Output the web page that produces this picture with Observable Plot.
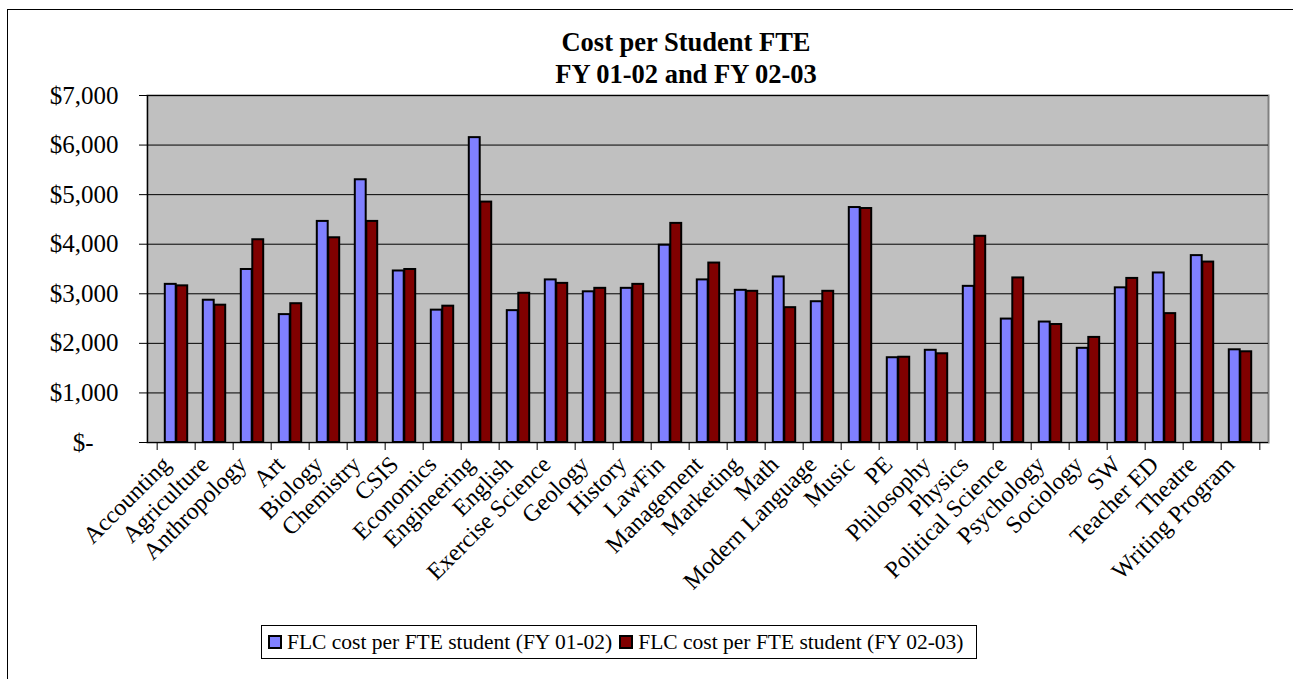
<!DOCTYPE html>
<html>
<head>
<meta charset="utf-8">
<script src="https://cdn.jsdelivr.net/npm/d3@7"></script>
<script src="https://cdn.jsdelivr.net/npm/@observablehq/plot@0.6"></script>
<style>
  body { margin: 0; background: #fff; font-family: "Liberation Serif", "Times New Roman", serif; }
  #wrap { position: relative; width: 1293px; height: 679px; overflow: hidden; }
  #border { position: absolute; left: 7px; top: 9px; width: 1400px; height: 800px; border: 1.5px solid #000; box-sizing: border-box; }
  #chart { position: absolute; left: 0; top: 0; }
  #title { position: absolute; left: 386px; width: 600px; top: 26px; text-align: center; font-weight: bold; font-size: 26.5px; line-height: 32px; color: #000; }
  #legend { position: absolute; left: 261px; top: 625px; width: 716px; height: 34px; border: 1px solid #000; box-sizing: border-box; display: flex; align-items: center; padding-left: 6px; font-size: 21.5px; color: #000; white-space: nowrap; }
  .sw { width: 14px; height: 14px; border: 2px solid #000; box-sizing: border-box; margin-right: 5px; }
  .item { display: flex; align-items: center; margin-right: 7px; }
</style>
</head>
<body>
<div id="wrap">
  <div id="border"></div>
  <div id="chart"></div>
  <div id="title">Cost per Student FTE<br>FY 01-02 and FY 02-03</div>
  <div id="legend"></div>
</div>
<script>
const categories = ["Accounting","Agriculture","Anthropology","Art","Biology","Chemistry","CSIS","Economics","Engineering","English","Exercise Science","Geology","History","LawFin","Management","Marketing","Math","Modern Language","Music","PE","Philosophy","Physics","Political Science","Psychology","Sociology","SW","Teacher ED","Theatre","Writing Program"];
const fy0102 = [3190,2870,3490,2580,4460,5300,3460,2670,6150,2660,3280,3040,3110,3980,3280,3070,3340,2840,4740,1710,1860,3150,2490,2430,1900,3120,3420,3770,1870];
const fy0203 = [3160,2770,4090,2800,4130,4460,3490,2750,4850,3010,3210,3110,3190,4420,3620,3050,2720,3050,4720,1720,1790,4160,3320,2380,2120,3310,2600,3640,1830];
const seriesNames = ["FLC cost per FTE student (FY 01-02)", "FLC cost per FTE student (FY 02-03)"];
const seriesColors = ["#8080FF", "#800000"];
const yTicks = [0,1000,2000,3000,4000,5000,6000,7000];

const rows = categories.map((c, i) => ({category: c, a: fy0102[i], b: fy0203[i]}));
const fmt = d3.format(",");
const halfStep = 19.33;

const chart = Plot.plot({
  width: 1293,
  height: 679,
  marginLeft: 147,
  marginRight: 25,
  marginTop: 95,
  marginBottom: 237,
  style: {background: "transparent", fontFamily: "'Liberation Serif', 'Times New Roman', serif", color: "#000", overflow: "visible"},
  x: {domain: categories, padding: 0, label: null},
  y: {domain: [0, 7000], label: null},
  marks: [
    Plot.frame({fill: "#C0C0C0", stroke: "#808080", strokeWidth: 2}),
    Plot.gridY(yTicks, {stroke: "#000", strokeOpacity: 1, strokeWidth: 1}),
    Plot.barY(rows, {x: "category", y: "a", fill: seriesColors[0], stroke: "#000", strokeWidth: 2, insetLeft: 7.8, insetRight: 19.3}),
    Plot.barY(rows, {x: "category", y: "b", fill: seriesColors[1], stroke: "#000", strokeWidth: 2, insetLeft: 19.3, insetRight: 7.8}),
    Plot.frame({anchor: "left", stroke: "#000", strokeWidth: 1.2}),
    Plot.ruleY([0], {stroke: "#000", strokeWidth: 1.2}),
    Plot.axisY(yTicks, {tickSize: 8, tickPadding: 21, fontSize: 25, stroke: "#000",
      tickFormat: d => d === 0 ? "$-\u00a0\u00a0\u00a0\u00a0" : "$" + fmt(d)}),
    Plot.axisX(categories, {tickSize: 0, tickRotate: -45, tickPadding: 18, dx: -10, fontSize: 24}),
    Plot.axisX(categories, {tickSize: 8, tickFormat: () => "", dx: -halfStep, stroke: "#000"}),
    Plot.axisX([categories[categories.length - 1]], {tickSize: 8, tickFormat: () => "", dx: halfStep, stroke: "#000"})
  ]
});
document.getElementById("chart").appendChild(chart);

const legend = document.getElementById("legend");
seriesNames.forEach((name, i) => {
  const item = document.createElement("div");
  item.className = "item";
  const sw = document.createElement("div");
  sw.className = "sw";
  sw.style.background = seriesColors[i];
  const tx = document.createElement("span");
  tx.textContent = name;
  item.appendChild(sw);
  item.appendChild(tx);
  legend.appendChild(item);
});
</script>
</body>
</html>
